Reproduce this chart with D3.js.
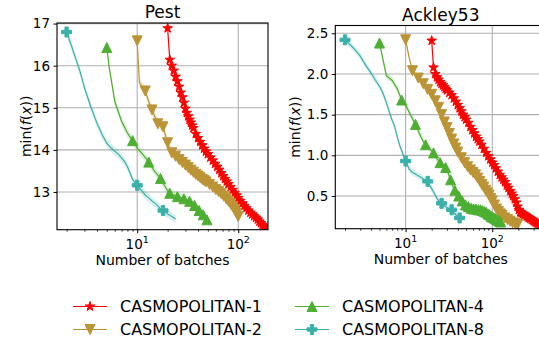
<!DOCTYPE html>
<html><head><meta charset="utf-8">
<script src="https://cdn.jsdelivr.net/npm/d3@7"></script>
<style>
body{margin:0;background:#fff}
svg{display:block}
text{font-family:"DejaVu Sans",sans-serif;fill:#000}
</style>
</head><body>
<svg id="chart" width="539" height="339"></svg>
<script>
// ---------------- DATA ----------------
const seriesNames = ["CASMOPOLITAN-1", "CASMOPOLITAN-2", "CASMOPOLITAN-4", "CASMOPOLITAN-8"];
const batchSizes = [1, 2, 4, 8];
const panelTitles = ["Pest", "Ackley53"];
const xLabel = "Number of batches";
const pestYTicks = [13, 14, 15, 16, 17];
const ackleyYTicks = [0.5, 1.0, 1.5, 2.0, 2.5];
const xMajorTicks = [10, 100];

// [number of batches, mean min f(x)]
const pestC1 = [[20,16.89],[21,16.14],[22,16.0],[23,15.88],[24,15.74],[25,15.63],[26,15.5],[27,15.36],[28,15.25],[29,15.12],[30,14.98],[31,14.88],[32,14.8],[33,14.72],[34,14.65],[35,14.58],[36,14.52],[38,14.38],[40,14.28],[42,14.19],[44,14.11],[46,14.03],[48,13.96],[50,13.9],[53,13.82],[56,13.75],[59,13.67],[62,13.6],[65,13.53],[68,13.45],[71,13.38],[74,13.31],[77,13.25],[80,13.19],[84,13.12],[88,13.05],[92,12.98],[96,12.92],[100,12.86],[105,12.79],[110,12.73],[115,12.67],[120,12.62],[126,12.56],[132,12.51],[138,12.47],[144,12.43],[150,12.39],[156,12.35],[162,12.3],[168,12.26],[174,12.22],[180,12.19],[186,12.15],[192,12.12],[200,12.08]];
const pestC2 = [[10,16.59],[10.5,15.6],[12,15.4],[13,15.15],[14,14.95],[15,14.78],[16,14.62],[17,14.58],[18,14.55],[19,14.35],[20,14.17],[21,14.02],[22,13.93],[24,13.85],[26,13.77],[28,13.7],[30,13.64],[32,13.58],[34,13.52],[36,13.47],[38,13.42],[40,13.38],[42,13.34],[44,13.3],[46,13.27],[48,13.24],[52,13.18],[56,13.12],[60,13.06],[64,13.01],[68,12.96],[72,12.9],[76,12.84],[80,12.78],[84,12.72],[88,12.65],[92,12.58],[96,12.5],[100,12.42]];
const pestC4 = [[5,16.43],[5.25,16.0],[6,15.15],[7,14.68],[8,14.4],[9,14.22],[10,14.05],[11,13.93],[12,13.82],[13,13.71],[14,13.59],[15,13.48],[16,13.4],[17,13.32],[18,13.22],[19,13.12],[20,13.03],[21,12.97],[23,12.93],[25,12.89],[27,12.87],[29,12.84],[31,12.81],[33,12.78],[35,12.73],[37,12.68],[39,12.62],[41,12.56],[43,12.51],[45,12.46],[47,12.4],[49,12.34]];
const pestC8 = [[2,16.8],[2.25,16.45],[2.5,16.12],[2.75,15.82],[3,15.48],[3.5,15.0],[4,14.63],[4.5,14.36],[5,14.16],[5.5,14.05],[6,13.97],[6.5,13.9],[7,13.81],[7.5,13.72],[8,13.6],[8.5,13.45],[9,13.3],[9.5,13.22],[10,13.16],[11,13.04],[12,12.93],[13,12.86],[14,12.79],[15,12.73],[16,12.67],[17,12.6],[18,12.56],[19,12.52],[20,12.48],[21,12.45],[22,12.42],[23,12.39],[24,12.36]];

const ackC1 = [[20,2.41],[21,2.08],[22,2.0],[23,1.96],[24,1.93],[25,1.9],[26,1.88],[27,1.86],[28,1.84],[29,1.82],[30,1.8],[32,1.77],[34,1.74],[36,1.7],[38,1.66],[40,1.62],[42,1.58],[44,1.54],[46,1.5],[48,1.47],[50,1.44],[53,1.4],[56,1.35],[59,1.31],[62,1.27],[65,1.23],[68,1.2],[71,1.17],[75,1.13],[80,1.08],[85,1.03],[90,0.99],[95,0.95],[100,0.91],[105,0.88],[110,0.84],[116,0.8],[122,0.76],[128,0.73],[134,0.7],[140,0.67],[147,0.63],[154,0.6],[161,0.56],[168,0.53],[175,0.5],[182,0.46],[189,0.42],[196,0.37],[203,0.33],[210,0.3],[218,0.29],[226,0.28],[234,0.27],[242,0.26],[250,0.25],[258,0.24],[266,0.23],[275,0.22],[285,0.21],[295,0.2],[305,0.19],[315,0.18],[325,0.17],[335,0.16],[350,0.15],[365,0.14],[380,0.13],[400,0.12]];
const ackC2 = [[10,2.42],[11,2.2],[12,2.04],[14,1.95],[16,1.88],[18,1.81],[20,1.75],[22,1.67],[24,1.59],[26,1.5],[28,1.41],[30,1.34],[32,1.27],[34,1.2],[36,1.14],[38,1.09],[40,1.04],[44,0.97],[48,0.91],[52,0.86],[56,0.82],[60,0.79],[64,0.76],[68,0.72],[72,0.68],[76,0.64],[80,0.61],[84,0.57],[88,0.54],[92,0.51],[96,0.47],[100,0.44],[106,0.39],[112,0.34],[118,0.31],[124,0.28],[130,0.26],[140,0.23],[150,0.21],[160,0.19],[172,0.17],[184,0.16],[196,0.15]];
const ackC4 = [[5,2.38],[6,1.98],[7,1.92],[8,1.82],[9,1.68],[10,1.62],[11,1.53],[12,1.45],[13,1.38],[14,1.3],[15,1.23],[16,1.17],[17,1.13],[19,1.08],[21,1.03],[23,0.96],[25,0.91],[27,0.88],[29,0.85],[31,0.78],[33,0.7],[35,0.62],[37,0.57],[39,0.53],[41,0.5],[45,0.44],[49,0.39],[53,0.37],[57,0.35],[61,0.34],[65,0.34],[69,0.33],[73,0.33],[77,0.32],[81,0.31],[85,0.3],[89,0.28],[93,0.27],[97,0.25],[101,0.24],[105,0.23],[109,0.22],[113,0.21],[117,0.2],[121,0.19],[125,0.18]];
const ackC8 = [[2,2.42],[2.5,2.32],[3,2.22],[3.5,2.1],[4,2.01],[4.5,1.92],[5,1.85],[5.5,1.76],[6,1.65],[6.5,1.53],[7,1.43],[7.5,1.35],[8,1.23],[8.5,1.13],[9,1.06],[9.5,0.99],[10,0.93],[11,0.83],[12,0.79],[13,0.77],[14,0.75],[15,0.73],[16,0.71],[17,0.69],[18,0.68],[19,0.63],[20,0.59],[21,0.55],[22,0.51],[23,0.47],[24,0.44],[25,0.42],[26,0.41],[28,0.38],[30,0.36],[32,0.34],[34,0.33],[36,0.3],[38,0.27],[40,0.25],[42,0.23],[44,0.21]];

// half-width of the shaded uncertainty band per series
const pestBand = [0.08, 0.12, 0.1, 0.1];
const ackBand = [0.03, 0.03, 0.04, 0.04];

// ---------------- STYLE / LAYOUT ----------------
const colors = ["#ff0000", "#bb9436", "#4daf32", "#3ab0aa"];
const markerTypes = ["star", "tridown", "triup", "plus"];
const MS = 10;

const panels = [
  {title: panelTitles[0], series: [pestC1, pestC2, pestC4, pestC8], band: pestBand,
   yTicks: pestYTicks, yFmt: d3.format("d"),
   left: 57, right: 268, top: 23, bottom: 229.7,
   xDom: [1.607, 197], yDom: [12.105, 17.014], yLabelX: 31, titleY: 18},
  {title: panelTitles[1], series: [ackC1, ackC2, ackC4, ackC8], band: ackBand,
   yTicks: ackleyYTicks, yFmt: d3.format(".1f"),
   left: 335.3, right: 546.3, top: 25.5, bottom: 228.7,
   xDom: [1.545, 420], yDom: [0.098, 2.596], yLabelX: 300, titleY: 20.5}
];

function markerPath(type, s) {
  const r = s / 2;
  if (type === "star") {
    const p = [];
    for (let i = 0; i < 10; i++) {
      const a = -Math.PI / 2 + i * Math.PI / 5;
      const rr = (i % 2) ? r * 0.381966 : r;
      p.push([rr * Math.cos(a), rr * Math.sin(a)]);
    }
    return "M" + p.map(d => d[0].toFixed(2) + "," + d[1].toFixed(2)).join("L") + "Z";
  }
  if (type === "triup") return `M0,${-r}L${r},${r}L${-r},${r}Z`;
  if (type === "tridown") return `M0,${r}L${r},${-r}L${-r},${-r}Z`;
  const a = r / 3, b = r;
  return `M${-a},${-b}H${a}V${-a}H${b}V${a}H${a}V${b}H${-a}V${a}H${-b}V${-a}H${-a}Z`;
}

const svg = d3.select("#chart");
const defs = svg.append("defs");

panels.forEach((P, pi) => {
  const x = d3.scaleLog().domain(P.xDom).range([P.left, P.right]);
  const y = d3.scaleLinear().domain(P.yDom).range([P.bottom, P.top]);
  const g = svg.append("g");

  defs.append("clipPath").attr("id", "clip" + pi)
    .append("rect").attr("x", P.left).attr("y", P.top)
    .attr("width", P.right - P.left).attr("height", P.bottom - P.top);

  // grid
  g.append("g").selectAll("line").data(xMajorTicks).join("line")
    .attr("x1", d => x(d)).attr("x2", d => x(d)).attr("y1", P.top).attr("y2", P.bottom)
    .attr("stroke", "#b0b0b0").attr("stroke-width", 1.1);
  g.append("g").selectAll("line").data(P.yTicks).join("line")
    .attr("x1", P.left).attr("x2", P.right).attr("y1", d => y(d)).attr("y2", d => y(d))
    .attr("stroke", "#b0b0b0").attr("stroke-width", 1.1);

  // series
  const plot = g.append("g").attr("clip-path", `url(#clip${pi})`);
  P.series.forEach((data, si) => {
    const col = colors[si];
    const e = P.band[si];
    const area = d3.area().x(d => x(d[0])).y0(d => y(d[1] - e)).y1(d => y(d[1] + e));
    plot.append("path").datum(data).attr("d", area).attr("fill", col).attr("fill-opacity", 0.2);
    const line = d3.line().x(d => x(d[0])).y(d => y(d[1]));
    plot.append("path").datum(data).attr("d", line).attr("fill", "none")
      .attr("stroke", col).attr("stroke-width", 1.2);
    const step = batchSizes[si];
    const x0 = data[0][0];
    const marked = data.filter(d => {
      const k = (d[0] - x0) / step;
      return Math.abs(k - Math.round(k)) < 1e-6;
    });
    plot.append("g").selectAll("path").data(marked).join("path")
      .attr("transform", d => `translate(${x(d[0])},${y(d[1])})`)
      .attr("d", markerPath(markerTypes[si], MS))
      .attr("fill", col).attr("stroke", col).attr("stroke-width", 1).attr("stroke-linejoin", "miter");
  });

  // y axis
  const yAxis = d3.axisLeft(y).tickValues(P.yTicks).tickFormat(P.yFmt).tickSize(3.5).tickPadding(3.5);
  const ya = g.append("g").attr("transform", `translate(${P.left},0)`).call(yAxis);
  ya.select(".domain").remove();
  ya.selectAll("line").attr("stroke", "#000").attr("stroke-width", 1);
  ya.selectAll("text").attr("font-size", 13.5).attr("fill", "#000")
    .attr("font-family", "DejaVu Sans");

  // x axis major
  const xAxis = d3.axisBottom(x).tickValues(xMajorTicks).tickFormat("").tickSize(3.5);
  const xa = g.append("g").attr("transform", `translate(0,${P.bottom})`).call(xAxis);
  xa.select(".domain").remove();
  xa.selectAll("line").attr("stroke", "#000").attr("stroke-width", 1);
  // x axis minor
  const minor = [];
  [1, 10, 100].forEach(dec => { for (let m = 2; m <= 9; m++) { const v = m * dec; if (v > P.xDom[0] && v < P.xDom[1]) minor.push(v); } });
  const xm = g.append("g").attr("transform", `translate(0,${P.bottom})`)
    .call(d3.axisBottom(x).tickValues(minor).tickFormat("").tickSize(2));
  xm.select(".domain").remove();
  xm.selectAll("line").attr("stroke", "#000").attr("stroke-width", 0.8);
  // x tick labels 10^k
  xMajorTicks.forEach(v => {
    const t = g.append("text").attr("x", x(v)).attr("y", P.bottom + 19).attr("text-anchor", "middle")
      .attr("font-size", 13.5);
    t.append("tspan").text("10");
    t.append("tspan").attr("dy", -6).attr("font-size", 9.5).text(String(Math.round(Math.log10(v))));
  });

  // frame
  g.append("rect").attr("x", P.left).attr("y", P.top)
    .attr("width", P.right - P.left).attr("height", P.bottom - P.top)
    .attr("fill", "none").attr("stroke", "#000").attr("stroke-width", 1.1);

  // title
  g.append("text").attr("x", (P.left + P.right) / 2).attr("y", P.titleY)
    .attr("text-anchor", "middle").attr("font-size", 17).text(P.title);

  // x label
  g.append("text").attr("x", (P.left + P.right) / 2).attr("y", P.bottom + 35)
    .attr("text-anchor", "middle").attr("font-size", 14).text(xLabel);

  // y label
  const yl = g.append("text").attr("transform", `translate(${P.yLabelX},${(P.top + P.bottom) / 2}) rotate(-90)`)
    .attr("text-anchor", "middle").attr("font-size", 14);
  yl.append("tspan").text("min(");
  yl.append("tspan").attr("font-style", "italic").text("f");
  yl.append("tspan").text("(");
  yl.append("tspan").attr("font-style", "italic").text("x");
  yl.append("tspan").text("))");
});

// legend (2 columns, filled column-wise)
const legPos = [[73, 306.5], [73, 329.5], [295, 306.5], [295, 329.5]];
const lg = svg.append("g");
seriesNames.forEach((name, i) => {
  const [lx, ly] = legPos[i];
  lg.append("line").attr("x1", lx).attr("x2", lx + 34).attr("y1", ly).attr("y2", ly)
    .attr("stroke", colors[i]).attr("stroke-width", 1.2);
  lg.append("path").attr("transform", `translate(${lx + 17},${ly})`)
    .attr("d", markerPath(markerTypes[i], MS)).attr("fill", colors[i]).attr("stroke", colors[i]).attr("stroke-width", 1);
  lg.append("text").attr("x", lx + 47).attr("y", ly + 5.8).attr("font-size", 16).text(name);
});
</script>
</body></html>
